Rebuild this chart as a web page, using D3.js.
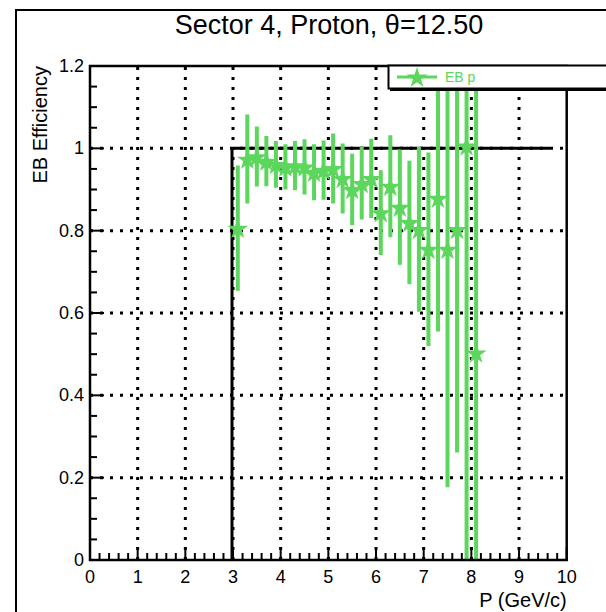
<!DOCTYPE html>
<html>
<head>
<meta charset="utf-8">
<script src="https://cdn.jsdelivr.net/npm/d3@7"></script>
<style>
  html, body { margin: 0; padding: 0; background: #fff; }
  svg { display: block; font-family: "Liberation Sans", Arial, Helvetica, sans-serif; }
</style>
</head>
<body>
<svg id="chart" width="606" height="612"></svg>
<script>
// Momentum bin centres (GeV/c)
const momentum = [3.1, 3.3, 3.5, 3.7, 3.9, 4.1, 4.3, 4.5, 4.7, 4.9, 5.1, 5.3, 5.5,
                  5.7, 5.9, 6.1, 6.3, 6.5, 6.7, 6.9, 7.1, 7.3, 7.5, 7.7, 7.9, 8.1];
// EB efficiency for protons in sector 4
const efficiency = [0.806, 0.974, 0.980, 0.969, 0.961, 0.955, 0.958, 0.955, 0.942, 0.947,
                    0.951, 0.927, 0.900, 0.915, 0.927, 0.844, 0.908, 0.857, 0.820, 0.803,
                    0.755, 0.879, 0.755, 0.803, 1.006, 0.503];
// Statistical uncertainty on each efficiency
const effError = [0.152, 0.108, 0.073, 0.061, 0.057, 0.055, 0.060, 0.067, 0.068, 0.072,
                  0.085, 0.085, 0.087, 0.088, 0.096, 0.103, 0.124, 0.140, 0.150, 0.200,
                  0.235, 0.324, 0.578, 0.542, 1.100, 0.700];
// Axis ticks
const xTicks = [0, 1, 2, 3, 4, 5, 6, 7, 8, 9, 10];
const yTicks = [0, 0.2, 0.4, 0.6, 0.8, 1, 1.2];
const yTickLabels = ["0", "0.2", "0.4", "0.6", "0.8", "1", "1.2"];
// Reference line: efficiency = 1 starting at P = 3 GeV/c
const refLineX = [3, 9.65];
const refLineY = 1;

const title = "Sector 4, Proton, \u03B8=12.50";
const xTitle = "P (GeV/c)";
const yTitle = "EB Efficiency";
const legendLabel = "EB p";
const green = "#5cd65c";

const svg = d3.select("#chart");
const frame = { left: 90, right: 566.7, top: 66, bottom: 560 };

const x = d3.scaleLinear().domain([0, 10]).range([frame.left, frame.right]);
const y = d3.scaleLinear().domain([0, 1.2]).range([frame.bottom, frame.top]);

// Canvas border
svg.append("rect")
  .attr("x", 16).attr("y", 10).attr("width", 700).attr("height", 700)
  .attr("fill", "none").attr("stroke", "#000").attr("stroke-width", 2);

// Title
svg.append("text")
  .attr("x", 329).attr("y", 34)
  .attr("text-anchor", "middle")
  .attr("font-size", 27)
  .text(title);

// Dotted grid
const grid = svg.append("g")
  .attr("stroke", "#000").attr("stroke-width", 3).attr("stroke-dasharray", "3 7");
grid.selectAll("line.gx").data(xTicks.slice(1, -1)).join("line")
  .attr("class", "gx")
  .attr("x1", d => x(d)).attr("x2", d => x(d))
  .attr("y1", frame.bottom).attr("y2", frame.top);
grid.selectAll("line.gy").data(yTicks.slice(1, -1)).join("line")
  .attr("class", "gy")
  .attr("x1", frame.left).attr("x2", frame.right)
  .attr("y1", d => y(d)).attr("y2", d => y(d));

// Reference lines
svg.append("line")
  .attr("x1", x(refLineX[0])).attr("x2", x(refLineX[1]))
  .attr("y1", y(refLineY)).attr("y2", y(refLineY))
  .attr("stroke", "#000").attr("stroke-width", 3);
svg.append("line")
  .attr("x1", x(refLineX[0]) - 1).attr("x2", x(refLineX[0]) - 1)
  .attr("y1", y(0)).attr("y2", y(refLineY))
  .attr("stroke", "#000").attr("stroke-width", 3);

// Data: error bars and markers, clipped to the frame
svg.append("clipPath").attr("id", "frameClip")
  .append("rect")
  .attr("x", frame.left).attr("y", frame.top)
  .attr("width", frame.right - frame.left).attr("height", frame.bottom - frame.top);

const points = momentum.map((p, i) => ({ p, e: efficiency[i], err: effError[i] }));
const dataG = svg.append("g").attr("clip-path", "url(#frameClip)");

dataG.selectAll("line.err").data(points).join("line")
  .attr("class", "err")
  .attr("x1", d => x(d.p)).attr("x2", d => x(d.p))
  .attr("y1", d => y(Math.max(0, d.e - d.err)))
  .attr("y2", d => y(Math.min(1.2, d.e + d.err)))
  .attr("stroke", green).attr("stroke-width", 4);

const star = d3.symbol().type(d3.symbolStar).size(135);
dataG.selectAll("path.mk").data(points).join("path")
  .attr("class", "mk")
  .attr("transform", d => `translate(${x(d.p)},${y(d.e) + 1})`)
  .attr("d", star)
  .attr("fill", green);

// Frame
svg.append("rect")
  .attr("x", frame.left).attr("y", frame.top)
  .attr("width", frame.right - frame.left).attr("height", frame.bottom - frame.top)
  .attr("fill", "none").attr("stroke", "#000").attr("stroke-width", 2.5);

// X axis ticks (inside the frame) and labels
const xMinor = d3.range(0, 10.001, 0.2);
svg.append("g").selectAll("line").data(xMinor).join("line")
  .attr("x1", d => x(d)).attr("x2", d => x(d))
  .attr("y1", frame.bottom)
  .attr("y2", d => frame.bottom - (Math.abs(d - Math.round(d)) < 1e-6 ? 13 : 7))
  .attr("stroke", "#000").attr("stroke-width", 2);
svg.append("g").selectAll("text").data(xTicks).join("text")
  .attr("x", d => x(d)).attr("y", 583)
  .attr("text-anchor", "middle").attr("font-size", 18)
  .text(d => d);

// Y axis ticks and labels
const yMinor = d3.range(0, 1.2001, 0.05);
svg.append("g").selectAll("line").data(yMinor).join("line")
  .attr("x1", frame.left)
  .attr("x2", d => frame.left + (Math.abs(d / 0.2 - Math.round(d / 0.2)) < 1e-6 ? 14 : 7))
  .attr("y1", d => y(d)).attr("y2", d => y(d))
  .attr("stroke", "#000").attr("stroke-width", 2);
svg.append("g").selectAll("text").data(yTicks).join("text")
  .attr("x", 84).attr("y", d => y(d) + 6)
  .attr("text-anchor", "end").attr("font-size", 18)
  .text((d, i) => yTickLabels[i]);

// Axis titles
svg.append("text")
  .attr("x", frame.right).attr("y", 607)
  .attr("text-anchor", "end").attr("font-size", 20)
  .text(xTitle);
svg.append("text")
  .attr("transform", `translate(47, ${frame.top}) rotate(-90)`)
  .attr("text-anchor", "end").attr("font-size", 20)
  .text(yTitle);

// Legend
const leg = svg.append("g");
leg.append("rect")
  .attr("x", 390).attr("y", 67).attr("width", 300).attr("height", 24)
  .attr("fill", "#000");
leg.append("rect")
  .attr("x", 388.5).attr("y", 65.5).attr("width", 300).attr("height", 23)
  .attr("fill", "#fff").attr("stroke", "#000").attr("stroke-width", 2);
leg.append("line")
  .attr("x1", 397).attr("x2", 437).attr("y1", 77).attr("y2", 77)
  .attr("stroke", green).attr("stroke-width", 3);
leg.append("path")
  .attr("transform", "translate(417,78)")
  .attr("d", star).attr("fill", green);
leg.append("text")
  .attr("x", 445).attr("y", 82).attr("font-size", 14)
  .attr("fill", green).text(legendLabel);
</script>
</body>
</html>
